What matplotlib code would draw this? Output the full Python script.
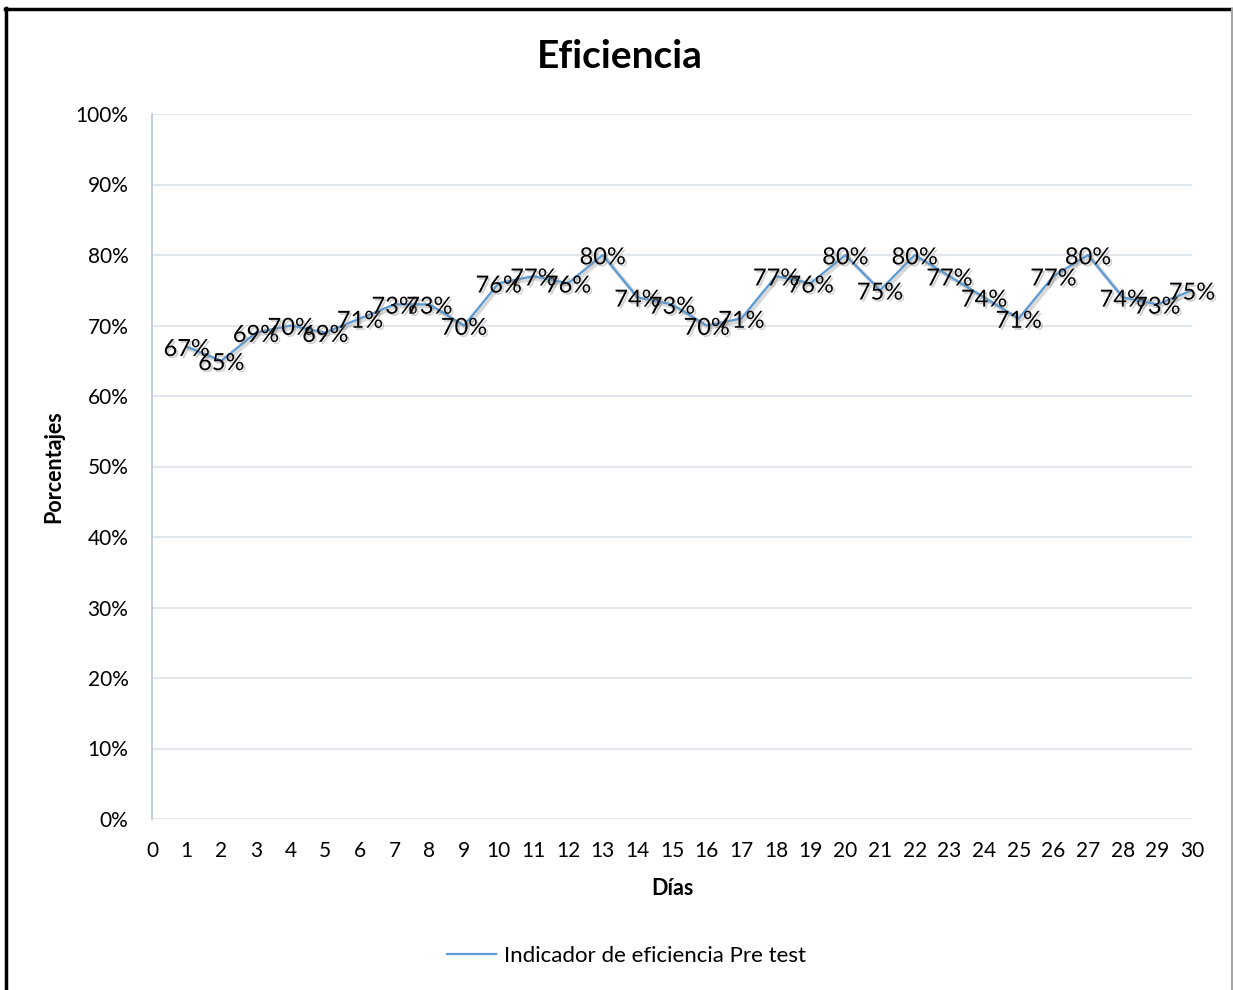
import matplotlib
matplotlib.use("Agg")
import matplotlib.pyplot as plt
import matplotlib.patheffects as pe
from matplotlib.lines import Line2D
from matplotlib.ticker import FuncFormatter

# Daily efficiency indicator (pre test), in percent
dias = list(range(1, 31))
eficiencia = [67, 65, 69, 70, 69, 71, 73, 73, 70, 76,
              77, 76, 80, 74, 73, 70, 71, 77, 76, 80,
              75, 80, 77, 74, 71, 77, 80, 74, 73, 75]
serie = "Indicador de eficiencia Pre test"
titulo = "Eficiencia"
eje_x = "Días"
eje_y = "Porcentajes"

plt.rcParams["font.family"] = ["Lato", "DejaVu Sans"]

W, H = 1233, 990
fig = plt.figure(figsize=(W / 100, H / 100), dpi=100)
fig.patch.set_facecolor("white")

ax = fig.add_axes([152 / W, 1 - 819 / H, (1192 - 152) / W, (819 - 114) / H])

line_color = "#5B9BD5"
shadow = [pe.SimpleLineShadow(offset=(1.5, -1.5), shadow_color="#7f7f7f", alpha=0.3, linewidth=3), pe.Normal()]
ax.plot(dias, eficiencia, color=line_color, lw=1.6, label=serie, path_effects=shadow, zorder=3)

text_shadow = [pe.SimplePatchShadow(offset=(1.5, -1.5), shadow_rgbFace="#8c8c8c", alpha=0.4), pe.Normal()]
for x, v in zip(dias, eficiencia):
    ax.text(x, v - 0.4, f"{v}%", ha="center", va="center", fontsize=17, color="black",
            path_effects=text_shadow, zorder=4)

ax.set_xlim(0, 30)
ax.set_ylim(0, 100)
ax.set_xticks(range(0, 31))
ax.set_yticks(range(0, 101, 10))
ax.yaxis.set_major_formatter(FuncFormatter(lambda v, p: f"{int(v)}%"))
ax.tick_params(axis="both", length=0, labelsize=15, colors="black")
ax.tick_params(axis="x", pad=16)
ax.tick_params(axis="y", pad=17)
ax.grid(axis="y", color="#DDE3EA", lw=1.2)
ax.set_axisbelow(True)
for s in ["top", "right", "bottom"]:
    ax.spines[s].set_visible(False)
ax.spines["left"].set_color("#B8C7DC")
ax.spines["left"].set_linewidth(1.2)

ax.set_xlabel(eje_x, fontsize=15.5, fontweight="bold", labelpad=12)
ax.set_ylabel(eje_y, fontsize=15.5, fontweight="bold", labelpad=8)

fig.text(0.503, 1 - 57 / H, titulo, ha="center", va="center", fontsize=28, fontweight="bold")

leg = fig.legend(loc="center", bbox_to_anchor=(0.508, 1 - 956 / H), frameon=False,
                 fontsize=16, handlelength=2.2, handletextpad=0.35)
for h in leg.get_lines():
    h.set_path_effects([])
    h.set_linewidth(1.6)

# chart frame
fig.add_artist(Line2D([6 / W, 6 / W], [0, 1 - 8 / H], transform=fig.transFigure, color="black", lw=2.5))
fig.add_artist(Line2D([5 / W, 1 - 1 / W], [1 - 9 / H, 1 - 9 / H], transform=fig.transFigure, color="black", lw=2.5))
fig.add_artist(Line2D([1 - 1.5 / W, 1 - 1.5 / W], [0, 1 - 9 / H], transform=fig.transFigure, color="#A6A6A6", lw=1.5))

fig.savefig("out.png", dpi=100)
